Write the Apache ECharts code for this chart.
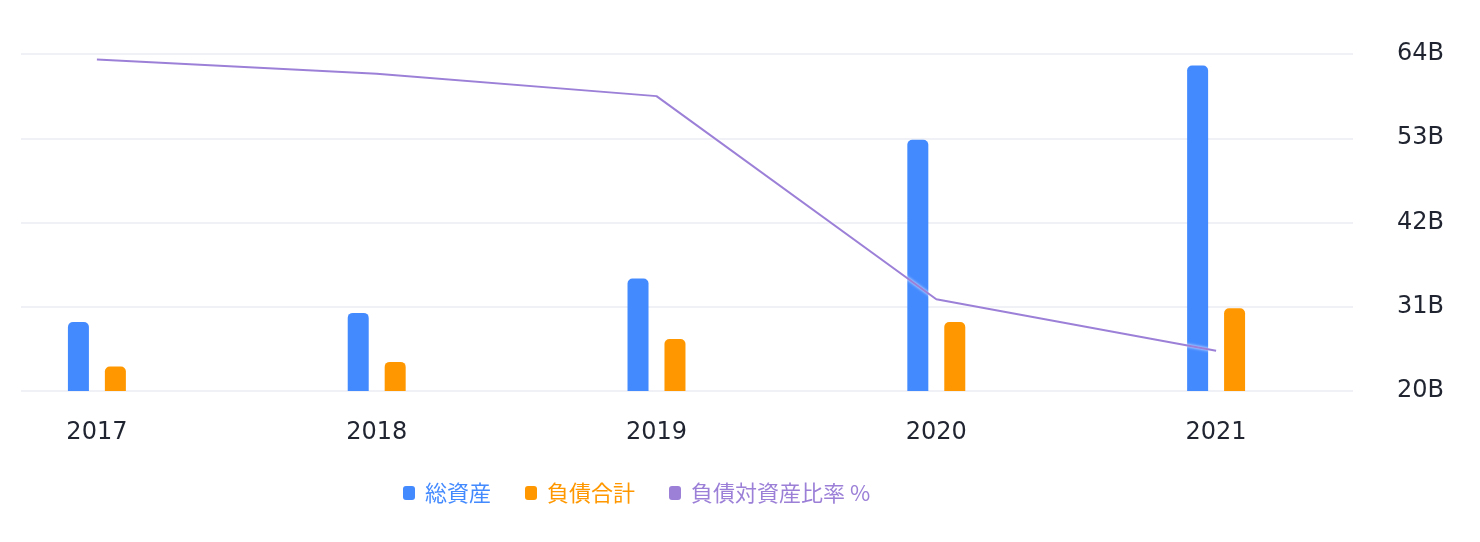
<!DOCTYPE html>
<html>
<head>
<meta charset="utf-8">
<script src="https://cdn.jsdelivr.net/npm/echarts@6/dist/echarts.min.js"></script>
<style>
	html, body { margin: 0; padding: 0; background: #fff; }
	#chart { width: 1480px; height: 542px; }
</style>
</head>
<body>
<div id="chart"></div>
<script>
// 年度
const years = ['2017', '2018', '2019', '2020', '2021']
// 十億単位
const totalAssets = [29.0, 30.2, 34.7, 52.8, 62.5]
const totalLiabilities = [23.2, 23.8, 26.8, 29.0, 30.8]
// %
const debtRatio = [80.4, 78.9, 76.5, 54.8, 49.3]
const yTicks = [20, 31, 42, 53, 64]

const names = ['総資産', '負債合計', '負債対資産比率 %']
const colors = ['#448aff', '#ff9800', '#9c80d8']

const myChart = echarts.init(document.getElementById('chart'))
const labelFont = { fontFamily: 'DejaVu Sans', fontSize: 24, color: '#1f2430' }

const option = {
	color: colors,
	animation: false,
	legend: {
		data: names.map(function (n, i) {
			return { name: n, textStyle: { color: colors[i] } }
		}),
		left: 398,
		top: 477,
		itemWidth: 12,
		itemHeight: 14,
		itemGap: 34,
		icon: 'roundRect',
		textStyle: {
			fontFamily: 'Noto Sans CJK JP',
			fontSize: 22,
			padding: [0, 0, 0, 5]
		}
	},
	grid: [
		// gridlines + right labels
		{ left: 21, right: 127, top: 54, bottom: 151, outerBoundsMode: 'none' },
		// marks (band centres every ~280px, first one at x=97)
		{ left: -43, right: 124, top: 54, bottom: 151, outerBoundsMode: 'none' }
	],
	xAxis: [
		{ type: 'category', gridIndex: 0, data: years, show: false },
		{
			type: 'category',
			gridIndex: 1,
			data: years,
			axisLine: { show: false },
			axisTick: { show: false },
			axisLabel: Object.assign({ margin: 30 }, labelFont)
		}
	],
	yAxis: [
		{
			type: 'value',
			gridIndex: 0,
			position: 'right',
			min: yTicks[0],
			max: yTicks[yTicks.length - 1],
			interval: 11,
			axisLine: { show: false },
			axisTick: { show: false },
			axisLabel: Object.assign({ margin: 44, formatter: '{value}B' }, labelFont),
			splitLine: { lineStyle: { color: '#eff1f7', width: 2 } }
		},
		{ type: 'value', gridIndex: 1, min: yTicks[0], max: yTicks[yTicks.length - 1], show: false, splitLine: { show: false } },
		{ type: 'value', gridIndex: 1, min: 45, max: 81, show: false, splitLine: { show: false } }
	],
	series: [
		{
			name: names[0],
			type: 'bar',
			xAxisIndex: 1,
			yAxisIndex: 1,
			barWidth: 21,
			barGap: '76%',
			itemStyle: { color: colors[0], borderRadius: [5, 5, 0, 0] },
			data: totalAssets
		},
		{
			name: names[1],
			type: 'bar',
			xAxisIndex: 1,
			yAxisIndex: 1,
			barWidth: 21,
			barGap: '76%',
			itemStyle: { color: colors[1], borderRadius: [5, 5, 0, 0] },
			data: totalLiabilities
		},
		{
			name: names[2],
			type: 'line',
			xAxisIndex: 1,
			yAxisIndex: 2,
			showSymbol: false,
			lineStyle: { width: 2, color: colors[2], shadowColor: '#ffffff', shadowBlur: 3 },
			itemStyle: { color: colors[2] },
			data: debtRatio
		}
	]
}
myChart.setOption(option)
</script>
</body>
</html>
